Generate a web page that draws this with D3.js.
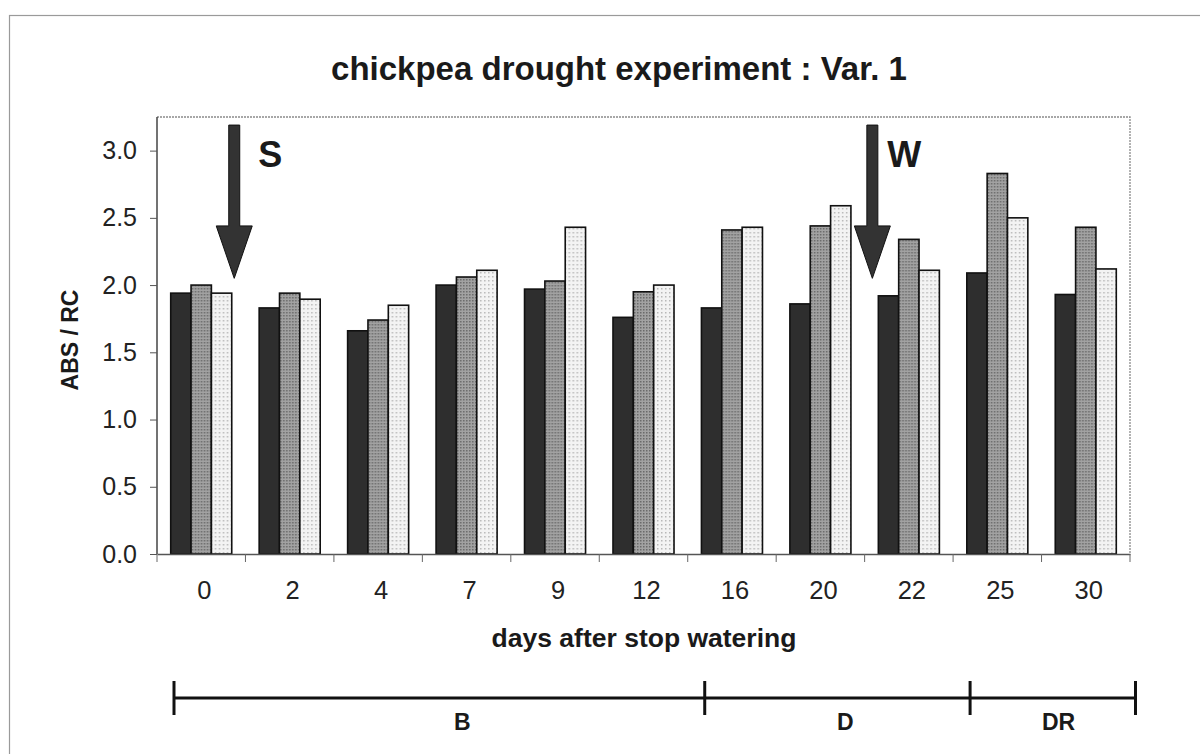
<!DOCTYPE html>
<html>
<head>
<meta charset="utf-8">
<script src="https://cdn.jsdelivr.net/npm/d3@7"></script>
<style>
  body { margin: 0; background: #fff; }
  svg { display: block; font-family: "Liberation Sans", Arial, sans-serif; }
</style>
</head>
<body>
<svg id="chart"></svg>
<script>
// chart values
const days = ['0', '2', '4', '7', '9', '12', '16', '20', '22', '25', '30'];
const series = ['s1', 's2', 's3'];
const s1 = [1.94, 1.83, 1.66, 2.00, 1.97, 1.76, 1.83, 1.86, 1.92, 2.09, 1.93];
const s2 = [2.00, 1.94, 1.74, 2.06, 2.03, 1.95, 2.41, 2.44, 2.34, 2.83, 2.43];
const s3 = [1.94, 1.895, 1.85, 2.11, 2.43, 2.00, 2.43, 2.59, 2.11, 2.50, 2.12];
const yTicks = [0, 0.5, 1.0, 1.5, 2.0, 2.5, 3.0];
const phases = [
    {label: 'B', from: 0, to: 6, at: 3.26},
    {label: 'D', from: 6, to: 9, at: 7.59},
    {label: 'DR', from: 9, to: 10.87, at: 10.0}
];
const markers = [
    {label: 'S', day: '0', side: 'after'},
    {label: 'W', day: '22', side: 'before'}
];

const W = 1200, H = 754;
const margin = {left: 157, right: 70, top: 117, bottom: 200};

const svg = d3.select('#chart').attr('width', W).attr('height', H);

// texture patterns for the scanned bar fills
const defs = svg.append('defs');
const p2 = defs.append('pattern').attr('id', 'pat2').attr('width', 3).attr('height', 3)
    .attr('patternUnits', 'userSpaceOnUse');
p2.append('rect').attr('width', 3).attr('height', 3).attr('fill', '#a2a2a2');
p2.append('rect').attr('width', 1.5).attr('height', 1.5).attr('fill', '#6a6a6a');
const p3 = defs.append('pattern').attr('id', 'pat3').attr('width', 4).attr('height', 4)
    .attr('patternUnits', 'userSpaceOnUse');
p3.append('rect').attr('width', 4).attr('height', 4).attr('fill', '#f3f3f3');
p3.append('rect').attr('width', 1.5).attr('height', 1.5).attr('fill', '#b8b8b8');

const fills = ['#2e2e2e', 'url(#pat2)', 'url(#pat3)'];

// outer frame
svg.append('rect')
    .attr('x', 9.5).attr('y', 15.5)
    .attr('width', W + 20).attr('height', H + 20)
    .attr('fill', 'none').attr('stroke', '#9a9a9a').attr('stroke-width', 1.2);

const x0 = d3.scaleBand().domain(days)
    .range([margin.left, W - margin.right])
    .paddingInner(0.31).paddingOuter(0.155);
const x1 = d3.scaleBand().domain(series).range([0, x0.bandwidth()]);
const y = d3.scaleLinear().domain([0, 3.25]).range([H - margin.bottom, margin.top]);

const x0Left = margin.left, x0Right = W - margin.right;
const step = x0.step();

// plot frame (top + right dotted)
svg.append('path')
    .attr('d', `M${x0Left},${y(3.25)}H${x0Right}V${y(0)}`)
    .attr('fill', 'none').attr('stroke', '#8a8a8a').attr('stroke-width', 1.3)
    .attr('stroke-dasharray', '2,1');

// bars
const rows = days.map((d, i) => ({day: d, vals: [s1[i], s2[i], s3[i]]}));
const g = svg.append('g')
    .selectAll('g')
    .data(rows)
    .enter()
    .append('g')
    .attr('transform', d => `translate(${x0(d.day)},0)`);

g.selectAll('rect')
    .data(d => d.vals.map((v, k) => ({k: k, v: v})))
    .enter()
    .append('rect')
    .attr('x', d => x1(series[d.k]))
    .attr('y', d => y(d.v))
    .attr('width', x1.bandwidth())
    .attr('height', d => y(0) - y(d.v))
    .attr('fill', d => fills[d.k])
    .attr('stroke', '#111')
    .attr('stroke-width', 1.6);

// y axis
const yAxis = svg.append('g')
    .attr('transform', `translate(${x0Left},0)`)
    .call(d3.axisLeft(y).tickValues(yTicks).tickFormat(d3.format('.1f'))
        .tickSize(7).tickSizeOuter(0).tickPadding(13));
yAxis.select('.domain').attr('stroke', '#444').attr('stroke-width', 1.5)
    .attr('d', `M0,${y(3.25)}V${y(0)}`);
yAxis.selectAll('.tick line').attr('stroke', '#555');
yAxis.selectAll('text').attr('font-size', 25).attr('fill', '#222')
    .attr('font-family', '"Liberation Sans", Arial, sans-serif');

// x axis: labels centred, ticks on the category boundaries
const xAxis = svg.append('g')
    .attr('transform', `translate(0,${y(0)})`)
    .call(d3.axisBottom(x0).tickSize(0).tickSizeOuter(0).tickPadding(27));
xAxis.select('.domain').attr('stroke', '#555').attr('stroke-width', 1.5);
xAxis.selectAll('text').attr('font-size', 25.5).attr('fill', '#222').attr('dx', 3)
    .attr('font-family', '"Liberation Sans", Arial, sans-serif');
xAxis.selectAll('line.bound')
    .data(d3.range(days.length + 1))
    .enter()
    .append('line')
    .attr('class', 'bound')
    .attr('x1', i => x0Left + i * step).attr('x2', i => x0Left + i * step)
    .attr('y1', 0).attr('y2', 8)
    .attr('stroke', '#666').attr('stroke-width', 1);

// arrows S and W
const arrowTop = 3.19, shaftEnd = 2.44, tip = 2.05;
const labelDx = {S: 24, W: 15};
markers.forEach(m => {
    const cx = m.side === 'after'
        ? x0(m.day) + x0.bandwidth() + 2.5
        : x0(m.day) - 6;
    svg.append('path')
        .attr('d', `M${cx - 5.5},${y(arrowTop)}H${cx + 5.5}V${y(shaftEnd)}H${cx + 18}` +
            `L${cx},${y(tip)}L${cx - 18},${y(shaftEnd)}H${cx - 5.5}Z`)
        .attr('fill', '#333').attr('stroke', '#111').attr('stroke-width', 1);
    svg.append('text')
        .attr('x', cx + labelDx[m.label]).attr('y', y(2.88))
        .attr('font-size', 36).attr('font-weight', 'bold').attr('fill', '#1a1a1a')
        .text(m.label);
});

// titles
svg.append('text')
    .attr('x', 619).attr('y', 80)
    .attr('text-anchor', 'middle')
    .attr('font-size', 33).attr('font-weight', 'bold').attr('fill', '#1a1a1a')
    .text('chickpea drought experiment : Var. 1');

svg.append('text')
    .attr('x', 644).attr('y', 647)
    .attr('text-anchor', 'middle')
    .attr('font-size', 26.5).attr('font-weight', 'bold').attr('fill', '#1a1a1a')
    .text('days after stop watering');

svg.append('text')
    .attr('transform', `translate(78,${340}) rotate(-90)`)
    .attr('text-anchor', 'middle')
    .attr('font-size', 23).attr('font-weight', 'bold').attr('fill', '#1a1a1a')
    .text('ABS / RC');

// phase bracket below the axis
const px = d3.scaleLinear().domain([0, days.length]).range([x0Left + 17, x0Right + 17]);
const lineY = 698;
const bracket = svg.append('g');
bracket.append('line')
    .attr('x1', px(phases[0].from)).attr('x2', px(phases[phases.length - 1].to))
    .attr('y1', lineY).attr('y2', lineY)
    .attr('stroke', '#111').attr('stroke-width', 3);
const ends = [phases[0].from].concat(phases.map(p => p.to));
bracket.selectAll('line.tick')
    .data(ends)
    .enter()
    .append('line')
    .attr('class', 'tick')
    .attr('x1', d => px(d)).attr('x2', d => px(d))
    .attr('y1', lineY - 17).attr('y2', lineY + 17)
    .attr('stroke', '#111').attr('stroke-width', 3);
bracket.selectAll('text')
    .data(phases)
    .enter()
    .append('text')
    .attr('x', d => px(d.at)).attr('y', 730)
    .attr('text-anchor', 'middle')
    .attr('font-size', 23).attr('font-weight', 'bold').attr('fill', '#1a1a1a')
    .text(d => d.label);
</script>
</body>
</html>
